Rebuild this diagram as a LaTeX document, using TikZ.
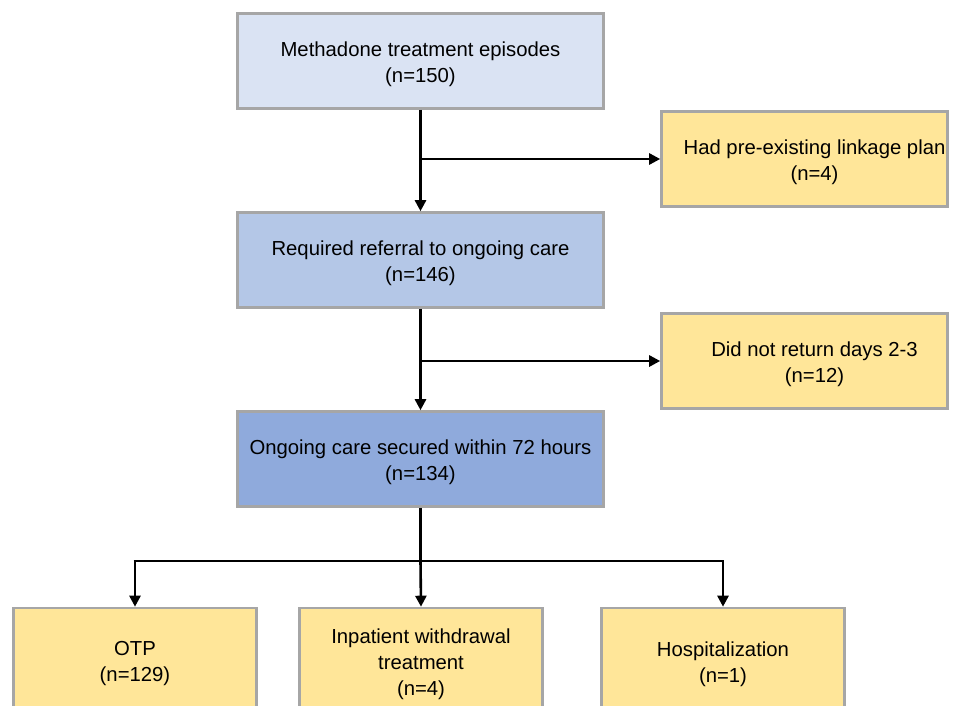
\documentclass[tikz,border=0pt]{standalone}
\usepackage{fontspec}
\setmainfont{Liberation Sans}
\usetikzlibrary{arrows.meta}
\definecolor{blueA}{HTML}{DAE3F3}
\definecolor{blueB}{HTML}{B4C7E7}
\definecolor{blueC}{HTML}{8FAADC}
\definecolor{yel}{HTML}{FFE699}
\definecolor{bord}{HTML}{A6A6A6}
\tikzset{
  box/.style={draw=bord, line width=2.6pt, inner sep=0pt},
  txt/.style={align=center, font=\fontsize{20.3}{26}\selectfont, text=black, yshift=-3pt},
  mainbox/.style={box, minimum width=366pt, minimum height=95pt},
  sidebox/.style={box, fill=yel, minimum width=286pt, minimum height=95pt},
  botbox/.style={box, fill=yel, minimum width=243pt, minimum height=106pt},
  conn/.style={line width=2.6pt, -{Triangle[length=11pt,width=11pt]}},
  plain/.style={line width=2.6pt}
}
\begin{document}
\begin{tikzpicture}[x=1pt,y=-1pt]
\useasboundingbox (0,0) rectangle (958,705);
\clip (0,0) rectangle (958,705);
\node[mainbox, fill=blueA, label={[txt, name=t1]center:{Methadone treatment episodes\\(n=150)}}] (b1) at (420.5,61) {};
\node[mainbox, fill=blueB, label={[txt, name=t2]center:{Required referral to ongoing care\\(n=146)}}] (b2) at (420.5,260) {};
\node[mainbox, fill=blueC, label={[txt, name=t3]center:{Ongoing care secured within 72 hours\\(n=134)}}] (b3) at (420.5,459) {};
\node[sidebox, label={[txt, name=ts1, xshift=10pt]center:{Had pre-existing linkage plan\\(n=4)}}] (s1) at (804.5,159) {};
\node[sidebox, label={[txt, name=ts2, xshift=10pt]center:{Did not return days 2-3\\(n=12)}}] (s2) at (804.5,361) {};
\node[botbox, label={[txt, name=to1]center:{OTP\\(n=129)}}] (o1) at (135,661) {};
\node[botbox, label={[txt, name=to2]center:{Inpatient withdrawal\\treatment\\(n=4)}}] (o2) at (421,661) {};
\node[botbox, label={[txt, name=to3]center:{Hospitalization\\(n=1)}}] (o3) at (723,661) {};
% connectors
\draw[conn] (b1.south) -- (b2.north);
\coordinate (j1) at (b1.south |- s1.west);
\draw[conn] (j1) -- (s1.west);
\draw[conn] (b2.south) -- (b3.north);
\coordinate (j2) at (b2.south |- s2.west);
\draw[conn] (j2) -- (s2.west);
\coordinate (j3) at ([yshift=-53pt]b3.south);
\coordinate (jl) at (o1.north |- j3);
\coordinate (jr) at (o3.north |- j3);
\draw[plain] (b3.south) -- (j3);
\draw[plain] ([xshift=-1.3pt]jl) -- ([xshift=1.3pt]jr);
\draw[conn] (jl) -- (o1.north);
\draw[conn] (j3) -- (o2.north);
\draw[conn] (jr) -- (o3.north);
\end{tikzpicture}
\end{document}
